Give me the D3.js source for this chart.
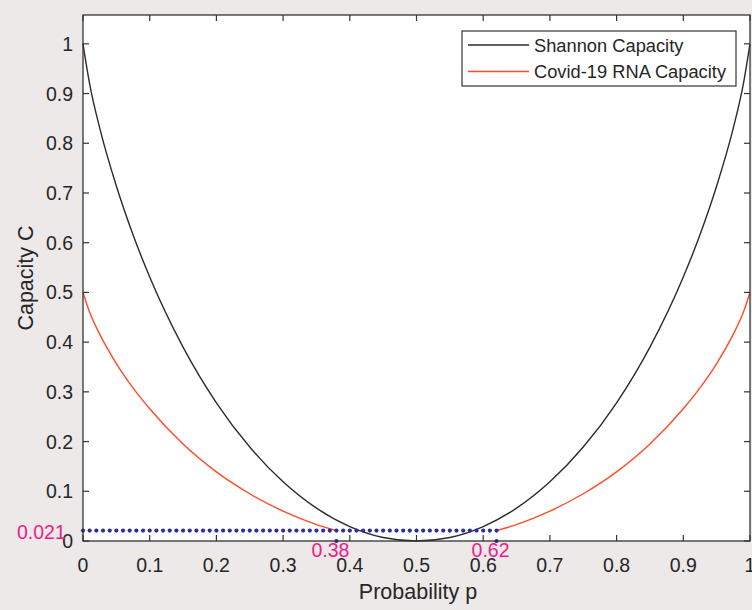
<!DOCTYPE html>
<html>
<head>
<meta charset="utf-8">
<script src="https://cdn.jsdelivr.net/npm/d3@7"></script>
<style>
  body { margin: 0; background: #ece9e8; }
  svg { display: block; font-family: "Liberation Sans", Arial, sans-serif; }
</style>
</head>
<body>
<svg id="chart" width="752" height="610"></svg>
<script>
// probability p where curves were read
var shannonP = [0, 0.01, 0.025, 0.05, 0.075, 0.1, 0.15, 0.2, 0.25, 0.3, 0.35, 0.4, 0.45, 0.5,
                0.55, 0.6, 0.65, 0.7, 0.75, 0.8, 0.85, 0.9, 0.925, 0.95, 0.975, 0.99, 1];
var shannonC = [1, 0.919, 0.831, 0.714, 0.616, 0.531, 0.39, 0.278, 0.189, 0.119, 0.066, 0.029, 0.007, 0,
                0.007, 0.029, 0.066, 0.119, 0.189, 0.278, 0.39, 0.531, 0.616, 0.714, 0.831, 0.919, 1];

// covid curve, drawn in two pieces (below 0.38 and above 0.62)
var covidLeftP = [0, 0.01, 0.025, 0.05, 0.075, 0.1, 0.15, 0.2, 0.25, 0.3, 0.35, 0.38];
var covidLeftC = [0.5, 0.46, 0.416, 0.357, 0.308, 0.266, 0.195, 0.139, 0.095, 0.06, 0.033, 0.021];
var covidRightP = [0.62, 0.65, 0.7, 0.75, 0.8, 0.85, 0.9, 0.925, 0.95, 0.975, 0.99, 1];
var covidRightC = [0.021, 0.033, 0.06, 0.095, 0.139, 0.195, 0.266, 0.308, 0.357, 0.416, 0.46, 0.5];

// threshold marker line
var thresholdC = 0.021;
var thresholdStart = 0;
var thresholdEnd = 0.62;
var thresholdStep = 0.01;
var cutP = [0.38, 0.62];

var xTicks = [0, 0.1, 0.2, 0.3, 0.4, 0.5, 0.6, 0.7, 0.8, 0.9, 1];
var yTicks = [0, 0.1, 0.2, 0.3, 0.4, 0.5, 0.6, 0.7, 0.8, 0.9, 1];
var legendNames = ["Shannon Capacity", "Covid-19 RNA Capacity"];

var colShannon = "#2b2b2b";
var colCovid = "#ff4b28";
var colDots = "#2c2ea3";
var colNote = "#ec1c8c";
var colAxis = "#333333";

var svg = d3.select("#chart");
var plotL = 83, plotR = 750, plotT = 15, plotB = 541;

var x = d3.scaleLinear().domain([0, 1]).range([plotL, plotR]);
var y = d3.scaleLinear().domain([0, 1.058]).range([plotB, plotT]);

// plot area
svg.append("rect")
  .attr("x", plotL).attr("y", plotT)
  .attr("width", plotR - plotL).attr("height", plotB - plotT)
  .attr("fill", "#ffffff");

function zip(ps, cs) {
  return ps.map(function(p, i) { return [p, cs[i]]; });
}

var line = d3.line()
  .x(function(d) { return x(d[0]); })
  .y(function(d) { return y(d[1]); })
  .curve(d3.curveMonotoneX);

svg.append("path")
  .attr("d", line(zip(shannonP, shannonC)))
  .attr("fill", "none").attr("stroke", colShannon).attr("stroke-width", 1.4);

[zip(covidLeftP, covidLeftC), zip(covidRightP, covidRightC)].forEach(function(seg) {
  svg.append("path")
    .attr("d", line(seg))
    .attr("fill", "none").attr("stroke", colCovid).attr("stroke-width", 1.4);
});

// dotted threshold
var dots = d3.range(thresholdStart, thresholdEnd + thresholdStep / 2, thresholdStep);
svg.selectAll("circle.thr").data(dots).enter().append("circle")
  .attr("class", "thr")
  .attr("cx", function(d) { return x(d); })
  .attr("cy", y(thresholdC))
  .attr("r", 2.1)
  .attr("fill", colDots);

svg.selectAll("circle.cut").data(cutP).enter().append("circle")
  .attr("class", "cut")
  .attr("cx", function(d) { return x(d); })
  .attr("cy", y(0))
  .attr("r", 2.1)
  .attr("fill", colDots);

// axes box and ticks
var axisG = svg.append("g");
axisG.append("rect")
  .attr("x", plotL).attr("y", plotT)
  .attr("width", plotR - plotL).attr("height", plotB - plotT)
  .attr("fill", "none").attr("stroke", colAxis).attr("stroke-width", 1.3);

var tl = 6;
axisG.selectAll("line.xb").data(xTicks).enter().append("line")
  .attr("x1", function(d) { return x(d); }).attr("x2", function(d) { return x(d); })
  .attr("y1", plotB).attr("y2", plotB - tl)
  .attr("stroke", colAxis).attr("stroke-width", 1.2);
axisG.selectAll("line.xt").data(xTicks).enter().append("line")
  .attr("x1", function(d) { return x(d); }).attr("x2", function(d) { return x(d); })
  .attr("y1", plotT).attr("y2", plotT + tl)
  .attr("stroke", colAxis).attr("stroke-width", 1.2);
axisG.selectAll("line.yl").data(yTicks).enter().append("line")
  .attr("y1", function(d) { return y(d); }).attr("y2", function(d) { return y(d); })
  .attr("x1", plotL).attr("x2", plotL + tl)
  .attr("stroke", colAxis).attr("stroke-width", 1.2);
axisG.selectAll("line.yr").data(yTicks).enter().append("line")
  .attr("y1", function(d) { return y(d); }).attr("y2", function(d) { return y(d); })
  .attr("x1", plotR).attr("x2", plotR - tl)
  .attr("stroke", colAxis).attr("stroke-width", 1.2);

axisG.selectAll("text.xl").data(xTicks).enter().append("text")
  .attr("x", function(d) { return x(d); })
  .attr("y", 572)
  .attr("text-anchor", "middle")
  .attr("font-size", 19.5).attr("fill", "#262626")
  .text(function(d) { return d3.format("")(d); });

axisG.selectAll("text.yl").data(yTicks).enter().append("text")
  .attr("x", 73)
  .attr("y", function(d) { return y(d) + 7; })
  .attr("text-anchor", "end")
  .attr("font-size", 19.5).attr("fill", "#262626")
  .text(function(d) { return d3.format("")(d); });

svg.append("text")
  .attr("x", 418).attr("y", 599)
  .attr("text-anchor", "middle")
  .attr("font-size", 21.5).attr("fill", "#262626")
  .text("Probability p");

svg.append("text")
  .attr("transform", "translate(33," + (plotT + plotB) / 2 + ") rotate(-90)")
  .attr("text-anchor", "middle")
  .attr("font-size", 21.5).attr("fill", "#262626")
  .text("Capacity C");

// annotations
svg.append("text")
  .attr("x", 17).attr("y", y(thresholdC) + 8)
  .attr("font-size", 19.5).attr("fill", colNote)
  .text(thresholdC);

svg.selectAll("text.cut").data(cutP).enter().append("text")
  .attr("x", function(d) { return x(d) - 6; })
  .attr("y", 557)
  .attr("text-anchor", "middle")
  .attr("font-size", 19.5).attr("fill", colNote)
  .text(function(d) { return d; });

// legend
var lg = svg.append("g");
lg.append("rect")
  .attr("x", 462).attr("y", 31).attr("width", 274).attr("height", 55)
  .attr("fill", "#ffffff").attr("stroke", colAxis).attr("stroke-width", 1.2);
var legendCols = [colShannon, colCovid];
legendNames.forEach(function(name, i) {
  var ly = 45 + i * 26.5;
  lg.append("line")
    .attr("x1", 468).attr("x2", 529).attr("y1", ly).attr("y2", ly)
    .attr("stroke", legendCols[i]).attr("stroke-width", 1.3);
  lg.append("text")
    .attr("x", 534).attr("y", ly + 6.5)
    .attr("font-size", 18.3).attr("fill", "#262626")
    .text(name);
});
</script>
</body>
</html>
